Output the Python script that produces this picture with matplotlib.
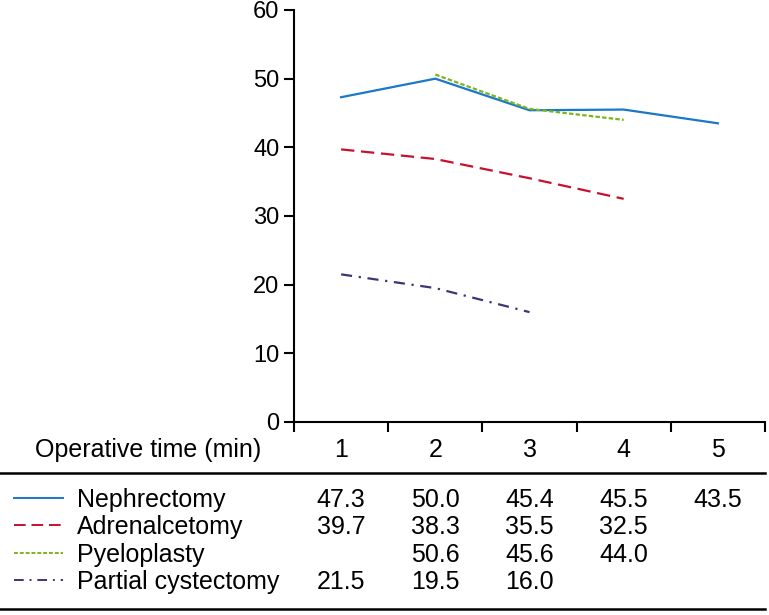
import matplotlib.pyplot as plt
from matplotlib.lines import Line2D
from matplotlib.transforms import blended_transform_factory

plt.rcParams['font.family'] = ['Liberation Sans', 'DejaVu Sans']

periods = [1, 2, 3, 4, 5]
period_labels = ['1', '2', '3', '4', '5']
names = ['Nephrectomy', 'Adrenalcetomy', 'Pyeloplasty', 'Partial cystectomy']
nephrectomy = [47.3, 50.0, 45.4, 45.5, 43.5]
adrenalcetomy = [39.7, 38.3, 35.5, 32.5, None]
pyeloplasty = [None, 50.6, 45.6, 44.0, None]
partial_cystectomy = [21.5, 19.5, 16.0, None, None]

series = [nephrectomy, adrenalcetomy, pyeloplasty, partial_cystectomy]
colors = ['#1a78c9', '#c8102e', '#7ab51d', '#3b3675']
styles = ['-', (0, (6, 3)), (0, (2, 1)), (0, (5, 3, 1, 3))]

fig = plt.figure(figsize=(7.69, 6.15), dpi=100)
ax = fig.add_axes([294 / 769, 1 - 422 / 615, 471 / 769, 412 / 615])

for vals, c, ls in zip(series, colors, styles):
    xs = [p for p, v in zip(periods, vals) if v is not None]
    ys = [v for v in vals if v is not None]
    ax.plot(xs, ys, color=c, linestyle=ls, linewidth=1.6)

ax.set_xlim(0.5, 5.5)
ax.set_ylim(0, 60)
ax.set_yticks(range(0, 61, 10))
ax.set_xticks([0.5, 1.5, 2.5, 3.5, 4.5, 5.5])
ax.set_xticklabels([])
for s in ['top', 'right']:
    ax.spines[s].set_visible(False)
for s in ['left', 'bottom']:
    ax.spines[s].set_linewidth(1.5)
ax.tick_params(axis='both', direction='out', length=7, width=1.5, labelsize=17)

# table under the axis
tr = blended_transform_factory(ax.transData, fig.transFigure)
fs = 18
def fy(py):
    return 1 - py / 615

fig.text(35 / 769, fy(450), 'Operative time (min)', fontsize=fs, va='center', ha='left')
for p, lab in zip(periods, period_labels):
    ax.text(p, fy(450), lab, transform=tr, fontsize=fs, ha='center', va='center')

fig.add_artist(Line2D([0, 765 / 769], [fy(473), fy(473)], color='black', linewidth=1.8))
fig.add_artist(Line2D([0, 765 / 769], [fy(609), fy(609)], color='black', linewidth=1.8))

row_y = [500, 527, 555, 582]
for name, vals, c, ls, y in zip(names, series, colors, styles, row_y):
    fig.add_artist(Line2D([14 / 769, 63 / 769], [fy(y - 2), fy(y - 2)], color=c, linestyle=ls, linewidth=1.4))
    fig.text(77 / 769, fy(y), name, fontsize=fs, va='center', ha='left')
    for p, v in zip(periods, vals):
        if v is not None:
            ax.text(p, fy(y), f'{v:.1f}', transform=tr, fontsize=fs, ha='center', va='center')

plt.savefig('out.png')
